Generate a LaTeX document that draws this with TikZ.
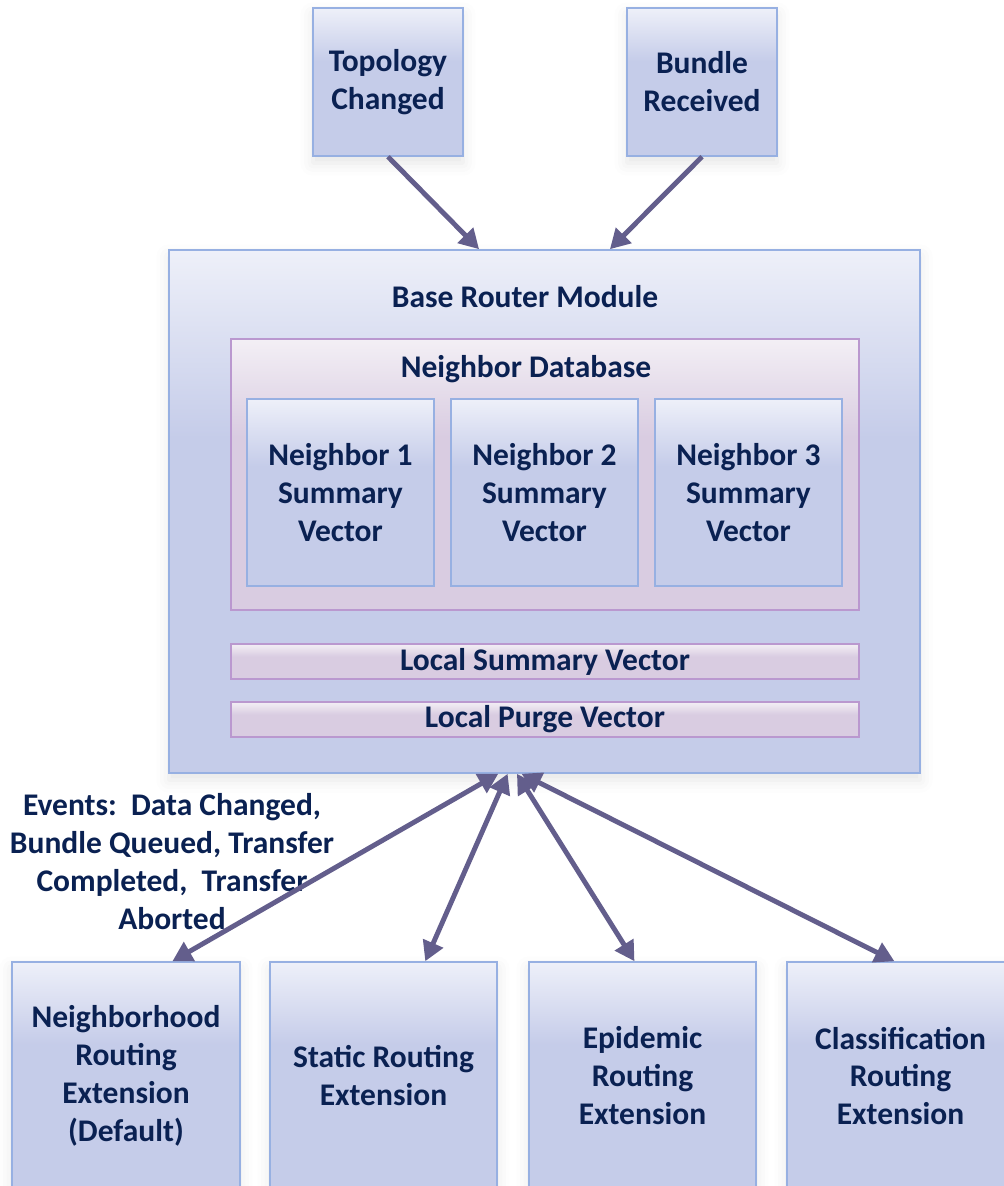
\documentclass[tikz,border=0pt]{standalone}
\usepackage{fontspec}
\setmainfont{Carlito}
\usetikzlibrary{arrows.meta,shadows.blur}
\definecolor{boxfill}{HTML}{C5CCE9}
\definecolor{boxtop}{HTML}{EEF0F9}
\definecolor{boxline}{HTML}{97B0E2}
\definecolor{pinkfill}{HTML}{D9CCE1}
\definecolor{pinktop}{HTML}{F3EFF5}
\definecolor{pinkline}{HTML}{BA98CF}
\definecolor{arrowcol}{HTML}{635E8C}
\definecolor{navy}{HTML}{0A2152}
\pgfdeclareverticalshading{blueshade}{100bp}{color(0bp)=(boxfill); color(25bp)=(boxfill); color(57bp)=(boxfill); color(75bp)=(boxtop); color(100bp)=(boxtop)}
\pgfdeclareverticalshading{pinkshade}{100bp}{color(0bp)=(pinkfill); color(25bp)=(pinkfill); color(57bp)=(pinkfill); color(75bp)=(pinktop); color(100bp)=(pinktop)}
\begin{document}
\begin{tikzpicture}[x=0.025cm, y=-0.025cm,
	txt/.style={text=navy, font=\bfseries\fontsize{22.4}{27}\selectfont, align=center},
	box/.style={txt, draw=boxline, line width=1pt, shading=blueshade, inner sep=0pt},
	pbox/.style={box, draw=pinkline, shading=pinkshade},
	shadowed/.style={blur shadow={shadow xshift=0pt, shadow yshift=-5pt, shadow blur radius=9pt, shadow opacity=10}},
	>={Triangle[length=14pt, width=15pt]},
	link/.style={draw=arrowcol, line width=3.5pt}]
	\useasboundingbox (0,0) rectangle (1004,1186);
	
	\node[box, shadowed, minimum width=3.75cm, minimum height=3.7cm] (topo) at (388,82) {Topology\\Changed};
	\node[box, shadowed, minimum width=3.75cm, minimum height=3.7cm] (bundle) at (702,82) {Bundle\\Received};
	
	\node[box, shadowed, minimum width=18.775cm, minimum height=13.075cm] (base) at (544.5,511.5) {};
	\node[txt] (baselbl) at (525,297) {Base Router Module};
	\node[pbox, minimum width=15.7cm, minimum height=6.775cm] (db) at (545,474.5) {};
	\node[txt] (dblbl) at (526,369) {Neighbor Database};
	\node[box, minimum width=4.675cm, minimum height=4.675cm] (n1) at (340.5,492.5) {Neighbor 1\\Summary\\Vector};
	\node[box, minimum width=4.675cm, minimum height=4.675cm] (n2) at (544.5,492.5) {Neighbor 2\\Summary\\Vector};
	\node[box, minimum width=4.675cm, minimum height=4.675cm] (n3) at (748.5,492.5) {Neighbor 3\\Summary\\Vector};
	\node[pbox, minimum width=15.7cm, minimum height=0.875cm] (lsv) at (545,661.5) {Local Summary Vector};
	\node[pbox, minimum width=15.7cm, minimum height=0.875cm] (lpv) at (545,719.5) {Local Purge Vector};
	
	\node[box, shadowed, minimum width=5.7cm, minimum height=5.7cm] (ext1) at (126,1076) {Neighborhood\\Routing\\Extension\\(Default)};
	\node[box, shadowed, minimum width=5.675cm, minimum height=5.7cm] (ext2) at (383.5,1076) {Static Routing\\Extension};
	\node[box, shadowed, minimum width=5.675cm, minimum height=5.7cm] (ext3) at (642.5,1076) {Epidemic\\Routing\\Extension};
	\node[box, shadowed, minimum width=5.675cm, minimum height=5.7cm] (ext4) at (900.5,1076) {Classification\\Routing\\Extension};
	
	\node[txt] (events) at (172,862) {Events:\ \ Data Changed,\\Bundle Queued, Transfer\\Completed,\ \ Transfer\\Aborted};
	
	\draw[link, ->] (topo.south) -- (base.104);
	\draw[link, ->] (bundle.south) -- (base.76);
	\draw[link, <->] (base.260) -- (ext1.68);
	\draw[link, <->] (base.262) -- (ext2.70);
	\draw[link, <->] (base.264) -- (ext3.94);
	\draw[link, <->] (base.265) -- (ext4.93);
\end{tikzpicture}
\end{document}
